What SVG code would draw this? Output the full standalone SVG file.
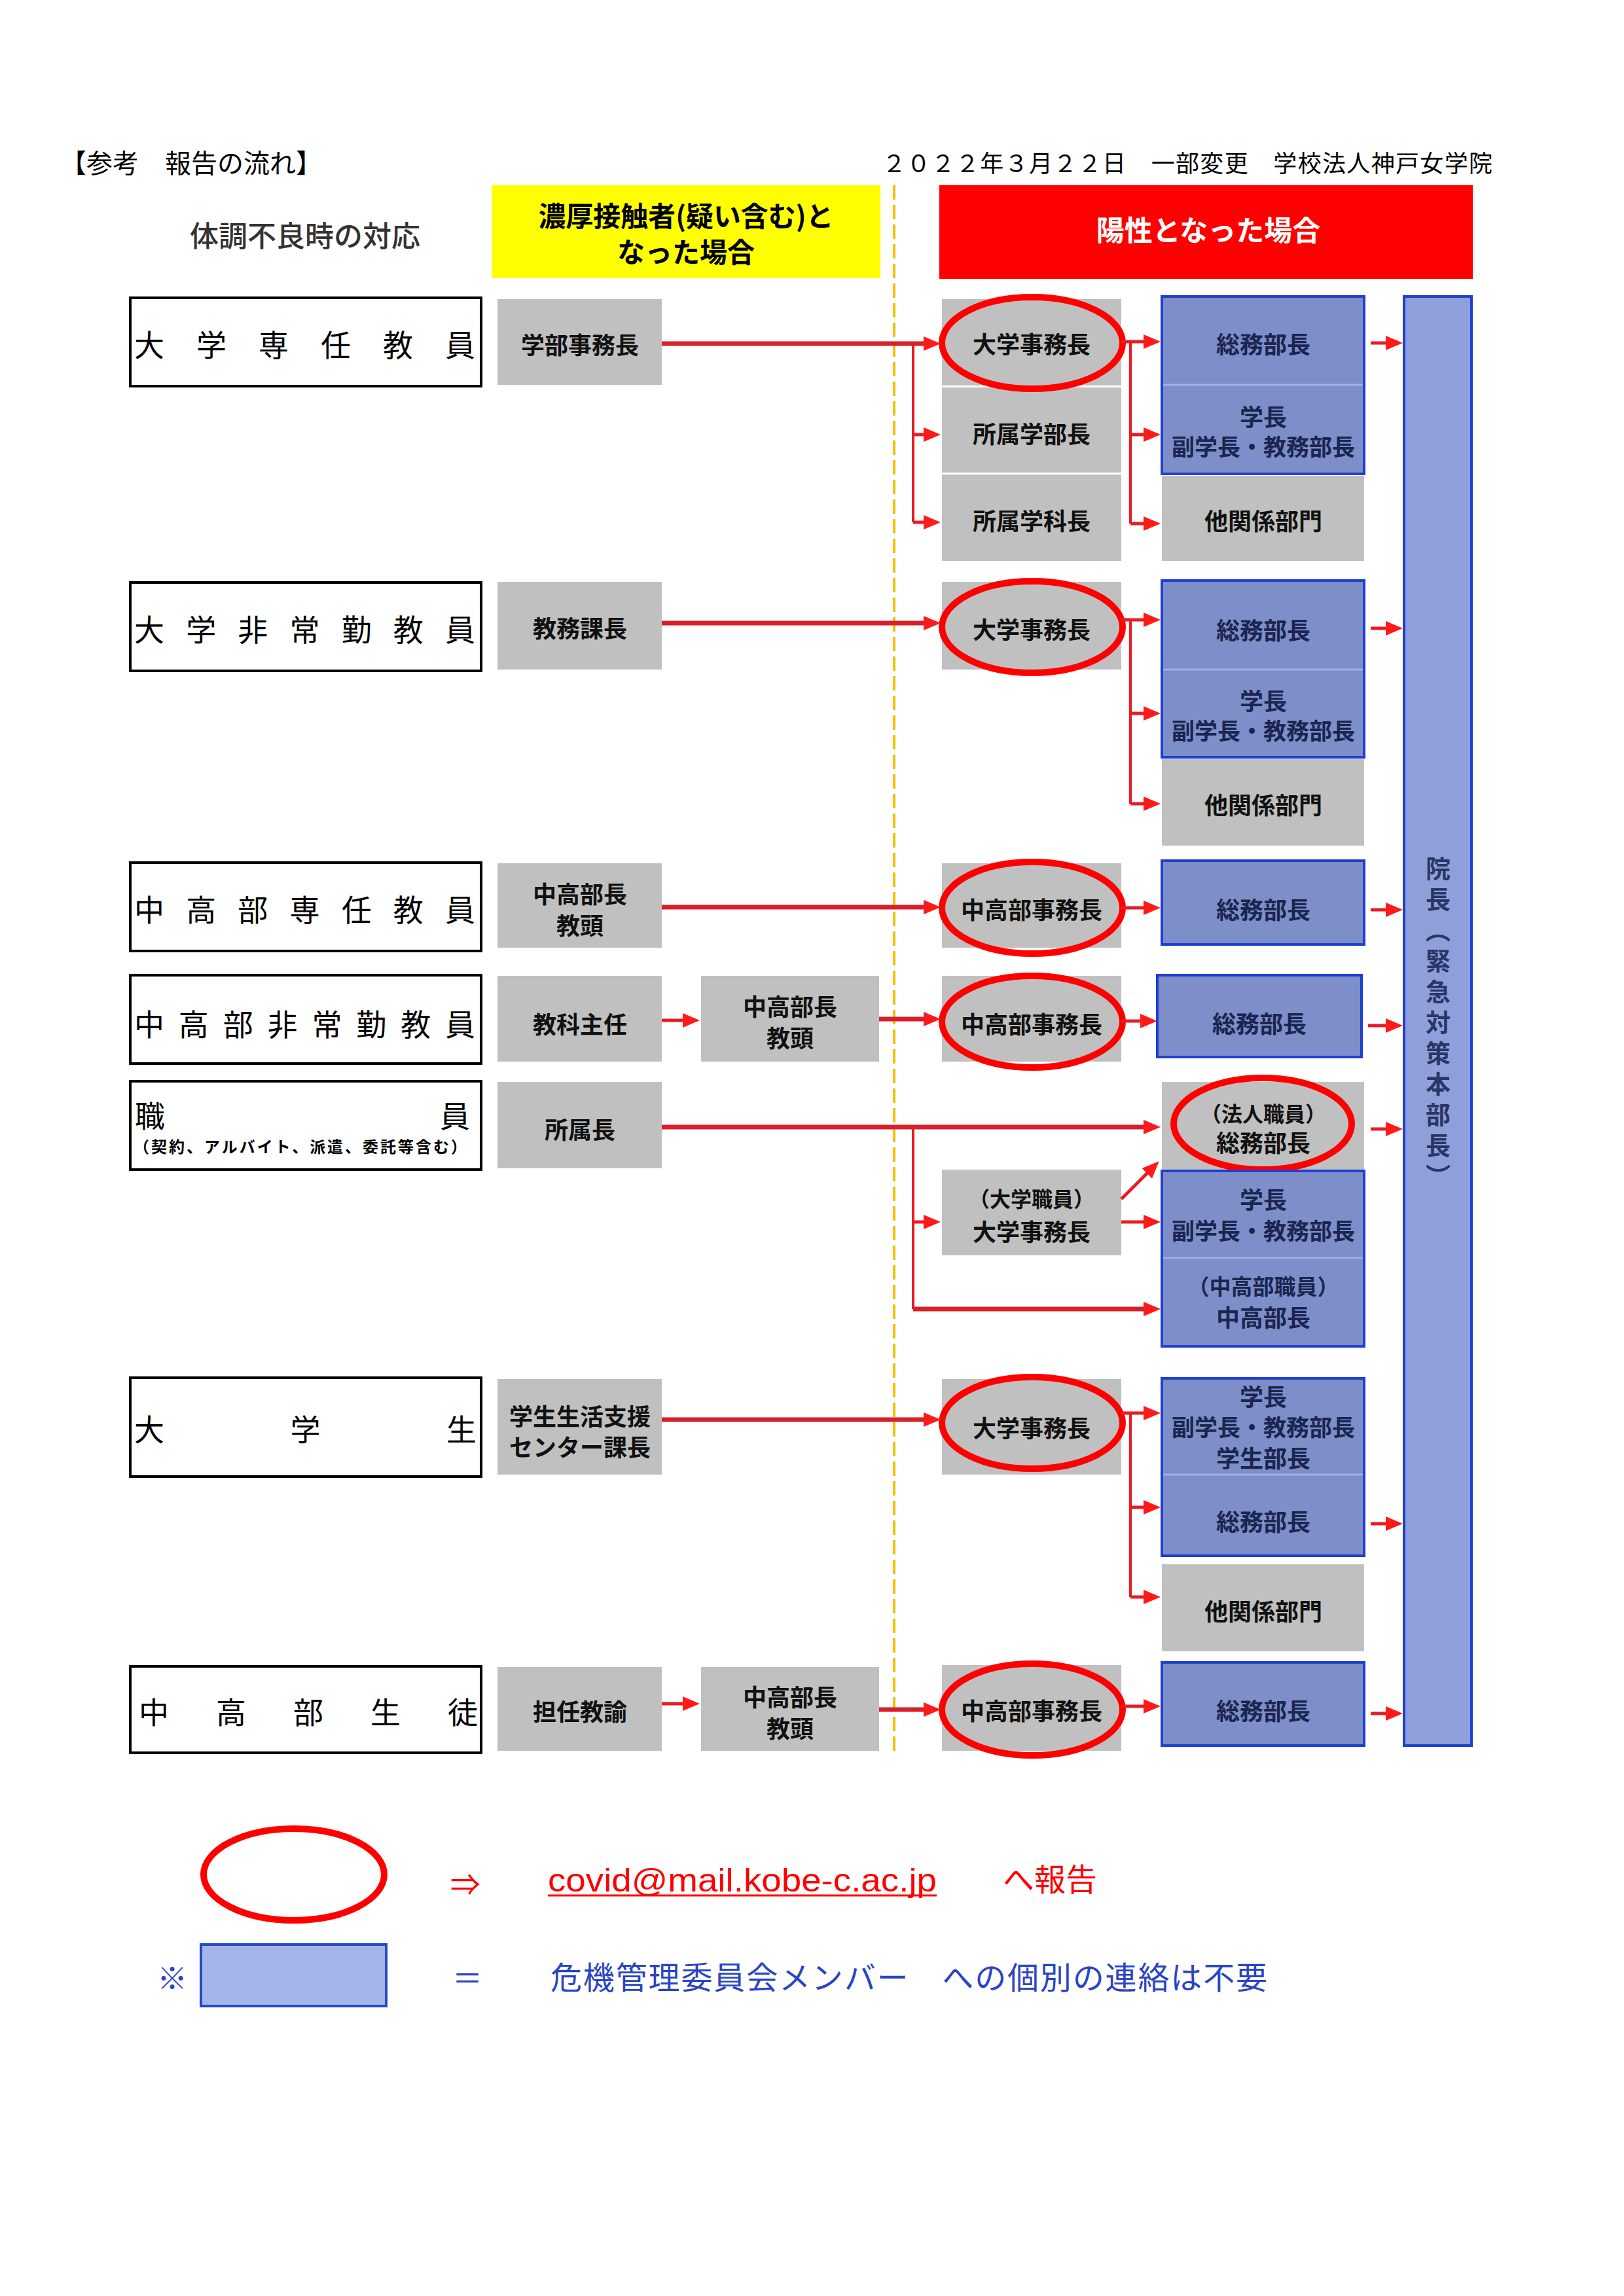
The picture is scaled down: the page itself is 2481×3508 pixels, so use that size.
<svg xmlns="http://www.w3.org/2000/svg" width="2481" height="3508" viewBox="0 0 2481 3508">
<defs>
<style>
text{font-family:"Noto Sans CJK JP","Noto Sans CJK SC",sans-serif;dominant-baseline:central}
.lbl{fill:#ffffff;stroke:#000000;stroke-width:4}
.g{fill:#c0c0c0}
.b{fill:#7d8ec8;stroke:#1f3fd2;stroke-width:4}
.gt{font-size:36px;font-weight:700;text-anchor:middle;fill:#111111}
.gs{font-size:32px;font-weight:700;text-anchor:middle;fill:#111111}
.bt{font-size:36px;font-weight:700;text-anchor:middle;fill:#1b2550}
.bs{font-size:33px;font-weight:700;text-anchor:middle;fill:#1b2550}
.lt{font-size:46px;fill:#000000}
.ov{fill:none;stroke:#ff0000;stroke-width:10}
.dv{stroke:#a3b0e0;stroke-width:3}
.ar{fill:none;stroke:#e81c24;stroke-width:5}
.arm{fill:none;stroke:#d8202a;stroke-width:7}
.vl{fill:none;stroke:#e81c24;stroke-width:4}
</style>
<marker id="ah" markerUnits="userSpaceOnUse" markerWidth="26" markerHeight="22" refX="18" refY="11" orient="auto"><path d="M0,0 L26,11 L0,22 z" fill="#ff1a1a"/></marker>
</defs>
<rect width="2481" height="3508" fill="#ffffff"/>

<g id="header">
<text x="92" y="247" style="font-size:40px" fill="#000">【参考　報告の流れ】</text>
<text x="1348" y="247" style="font-size:36px" fill="#000" textLength="932" lengthAdjust="spacing">２０２２年３月２２日　一部変更　学校法人神戸女学院</text>
<text x="466" y="358" style="font-size:44px;font-weight:500;text-anchor:middle" fill="#333333">体調不良時の対応</text>
<rect x="751" y="283" width="594" height="142" fill="#ffff00"/>
<text x="1048" y="327" style="font-size:42px;font-weight:700;text-anchor:middle" fill="#000" textLength="451" lengthAdjust="spacingAndGlyphs">濃厚接触者(疑い含む)と</text>
<text x="1048" y="382" style="font-size:42px;font-weight:700;text-anchor:middle" fill="#000">なった場合</text>
<rect x="1435" y="283" width="815" height="143" fill="#ff0000"/>
<text x="1846" y="349" style="font-size:43px;font-weight:700;text-anchor:middle" fill="#ffffff">陽性となった場合</text>
<line x1="1366" y1="283" x2="1366" y2="2680" stroke="#f2c200" stroke-width="4" stroke-dasharray="22 8"/>
</g>

<g id="hq">
<rect x="2145" y="453" width="103" height="2214" fill="#8e9fd9" stroke="#1f3fd2" stroke-width="4"/>
<text x="2197" y="1566" writing-mode="vertical-rl" style="font-size:38px;font-weight:700;text-anchor:middle;letter-spacing:9px" fill="#2b3566">院長（緊急対策本部長）</text>
</g>

<g id="row1">
<rect class="lbl" x="199" y="455" width="536" height="135"/>
<text class="lt" x="205" y="524" textLength="521" lengthAdjust="spacing">大学専任教員</text>
<rect class="g" x="760" y="457" width="251" height="131"/>
<text class="gt" x="886" y="525">学部事務長</text>
<rect class="g" x="1439" y="457" width="274" height="132"/>
<text class="gt" x="1576" y="524">大学事務長</text>
<rect class="g" x="1439" y="592" width="274" height="130"/>
<text class="gt" x="1576" y="661">所属学部長</text>
<rect class="g" x="1439" y="725" width="274" height="132"/>
<text class="gt" x="1576" y="794">所属学科長</text>
<ellipse class="ov" cx="1577" cy="524" rx="138" ry="70"/>
<rect class="b" x="1775" y="453" width="309" height="271"/>
<line class="dv" x1="1777" y1="588" x2="2082" y2="588"/>
<text class="bt" x="1930" y="524">総務部長</text>
<text class="bt" x="1930" y="635">学長</text>
<text class="bt" x="1930" y="680" style="font-size:35px">副学長・教務部長</text>
<rect class="g" x="1775" y="727" width="309" height="130"/>
<text class="gt" x="1930" y="794">他関係部門</text>
</g>

<g id="row2">
<rect class="lbl" x="199" y="890" width="536" height="135"/>
<text class="lt" x="205" y="959" textLength="521" lengthAdjust="spacing">大学非常勤教員</text>
<rect class="g" x="760" y="889" width="251" height="134"/>
<text class="gt" x="886" y="958">教務課長</text>
<rect class="g" x="1439" y="889" width="274" height="134"/>
<text class="gt" x="1576" y="960">大学事務長</text>
<ellipse class="ov" cx="1577" cy="958" rx="138" ry="70"/>
<rect class="b" x="1775" y="887" width="309" height="270"/>
<line class="dv" x1="1777" y1="1023" x2="2082" y2="1023"/>
<text class="bt" x="1930" y="961">総務部長</text>
<text class="bt" x="1930" y="1069">学長</text>
<text class="bt" x="1930" y="1114" style="font-size:35px">副学長・教務部長</text>
<rect class="g" x="1775" y="1160" width="309" height="132"/>
<text class="gt" x="1930" y="1228">他関係部門</text>
</g>

<g id="row3">
<rect class="lbl" x="199" y="1318" width="536" height="135"/>
<text class="lt" x="205" y="1387" textLength="521" lengthAdjust="spacing">中高部専任教員</text>
<rect class="g" x="760" y="1319" width="251" height="129"/>
<text class="gt" x="886" y="1364">中高部長</text>
<text class="gt" x="886" y="1412">教頭</text>
<rect class="g" x="1439" y="1319" width="274" height="129"/>
<text class="gt" x="1576" y="1388">中高部事務長</text>
<ellipse class="ov" cx="1577" cy="1387" rx="138" ry="70"/>
<rect class="b" x="1775" y="1315" width="309" height="128"/>
<text class="bt" x="1930" y="1388">総務部長</text>
</g>

<g id="row4">
<rect class="lbl" x="199" y="1490" width="536" height="135"/>
<text class="lt" x="205" y="1562" textLength="521" lengthAdjust="spacing">中高部非常勤教員</text>
<rect class="g" x="760" y="1491" width="251" height="131"/>
<text class="gt" x="886" y="1563">教科主任</text>
<rect class="g" x="1071" y="1491" width="272" height="131"/>
<text class="gt" x="1207" y="1536">中高部長</text>
<text class="gt" x="1207" y="1584">教頭</text>
<rect class="g" x="1439" y="1491" width="274" height="131"/>
<text class="gt" x="1576" y="1563">中高部事務長</text>
<ellipse class="ov" cx="1577" cy="1561" rx="138" ry="70"/>
<rect class="b" x="1768" y="1490" width="312" height="125"/>
<text class="bt" x="1924" y="1562">総務部長</text>
</g>

<g id="row5">
<rect class="lbl" x="199" y="1652" width="536" height="135"/>
<text class="lt" x="206" y="1702">職</text>
<text class="lt" x="718" y="1702" style="text-anchor:end">員</text>
<text x="204" y="1750" style="font-size:24px;font-weight:700" fill="#000" textLength="509" lengthAdjust="spacing">（契約、アルバイト、派遣、委託等含む）</text>
<rect class="g" x="760" y="1653" width="251" height="132"/>
<text class="gt" x="886" y="1724">所属長</text>
<rect class="g" x="1439" y="1787" width="274" height="131"/>
<text class="gs" x="1576" y="1830">（大学職員）</text>
<text class="gt" x="1576" y="1880">大学事務長</text>
<rect class="g" x="1775" y="1653" width="309" height="134"/>
<text class="gs" x="1930" y="1700">（法人職員）</text>
<text class="gt" x="1930" y="1744">総務部長</text>
<ellipse class="ov" cx="1929" cy="1717" rx="136" ry="70"/>
<rect class="b" x="1775" y="1789" width="309" height="268"/>
<line class="dv" x1="1777" y1="1922" x2="2082" y2="1922"/>
<text class="bt" x="1930" y="1831">学長</text>
<text class="bt" x="1930" y="1878" style="font-size:35px">副学長・教務部長</text>
<text class="bs" x="1930" y="1964">（中高部職員）</text>
<text class="bt" x="1930" y="2011">中高部長</text>
</g>

<g id="row6">
<rect class="lbl" x="199" y="2105" width="536" height="151"/>
<text class="lt" x="205" y="2181" textLength="523" lengthAdjust="spacing">大学生</text>
<rect class="g" x="760" y="2107" width="251" height="146"/>
<text class="gt" x="886" y="2162">学生生活支援</text>
<text class="gt" x="886" y="2209">センター課長</text>
<rect class="g" x="1439" y="2107" width="274" height="146"/>
<text class="gt" x="1576" y="2180">大学事務長</text>
<ellipse class="ov" cx="1577" cy="2174" rx="138" ry="70"/>
<rect class="b" x="1775" y="2106" width="309" height="271"/>
<line class="dv" x1="1777" y1="2253" x2="2082" y2="2253"/>
<text class="bt" x="1930" y="2132">学長</text>
<text class="bt" x="1930" y="2178" style="font-size:35px">副学長・教務部長</text>
<text class="bt" x="1930" y="2226">学生部長</text>
<text class="bt" x="1930" y="2323">総務部長</text>
<rect class="g" x="1775" y="2390" width="309" height="133"/>
<text class="gt" x="1930" y="2460">他関係部門</text>
</g>

<g id="row7">
<rect class="lbl" x="199" y="2546" width="536" height="132"/>
<text class="lt" x="212" y="2613" textLength="518" lengthAdjust="spacing">中高部生徒</text>
<rect class="g" x="760" y="2547" width="251" height="128"/>
<text class="gt" x="886" y="2613">担任教諭</text>
<rect class="g" x="1071" y="2547" width="272" height="128"/>
<text class="gt" x="1207" y="2591">中高部長</text>
<text class="gt" x="1207" y="2639">教頭</text>
<rect class="g" x="1439" y="2544" width="274" height="131"/>
<text class="gt" x="1576" y="2612">中高部事務長</text>
<ellipse class="ov" cx="1577" cy="2612" rx="138" ry="70"/>
<rect class="b" x="1775" y="2540" width="309" height="127"/>
<text class="bt" x="1930" y="2612">総務部長</text>
</g>

<g id="connectors">
<path class="arm" d="M1011,525 H1429" marker-end="url(#ah)"/>
<path class="vl" d="M1395,525 V798"/>
<path class="ar" d="M1395,664 H1429" marker-end="url(#ah)"/>
<path class="ar" d="M1395,798 H1429" marker-end="url(#ah)"/>
<path class="ar" d="M1713,522 H1765" marker-end="url(#ah)"/>
<path class="vl" d="M1727,522 V800"/>
<path class="ar" d="M1727,664 H1765" marker-end="url(#ah)"/>
<path class="ar" d="M1727,800 H1765" marker-end="url(#ah)"/>
<path class="ar" d="M2094,524 H2135" marker-end="url(#ah)"/>

<path class="arm" d="M1011,952 H1429" marker-end="url(#ah)"/>
<path class="ar" d="M1713,947 H1765" marker-end="url(#ah)"/>
<path class="vl" d="M1727,947 V1228"/>
<path class="ar" d="M1727,1090 H1765" marker-end="url(#ah)"/>
<path class="ar" d="M1727,1228 H1765" marker-end="url(#ah)"/>
<path class="ar" d="M2094,960 H2135" marker-end="url(#ah)"/>

<path class="arm" d="M1011,1386 H1429" marker-end="url(#ah)"/>
<path class="ar" d="M1713,1387 H1765" marker-end="url(#ah)"/>
<path class="ar" d="M2094,1390 H2135" marker-end="url(#ah)"/>

<path class="ar" d="M1011,1559 H1061" marker-end="url(#ah)"/>
<path class="arm" d="M1343,1557 H1429" marker-end="url(#ah)"/>
<path class="ar" d="M1713,1560 H1760" marker-end="url(#ah)"/>
<path class="ar" d="M2090,1567 H2135" marker-end="url(#ah)"/>

<path class="arm" d="M1011,1722 H1765" marker-end="url(#ah)"/>
<path class="vl" d="M1395,1722 V2000"/>
<path class="ar" d="M1395,1867 H1429" marker-end="url(#ah)"/>
<path class="arm" d="M1395,2000 H1765" marker-end="url(#ah)"/>
<path class="ar" d="M1713,1832 L1765,1780" marker-end="url(#ah)"/>
<path class="ar" d="M1713,1867 H1765" marker-end="url(#ah)"/>
<path class="ar" d="M2094,1725 H2135" marker-end="url(#ah)"/>

<path class="arm" d="M1011,2169 H1429" marker-end="url(#ah)"/>
<path class="ar" d="M1713,2159 H1765" marker-end="url(#ah)"/>
<path class="vl" d="M1727,2159 V2440"/>
<path class="ar" d="M1727,2303 H1765" marker-end="url(#ah)"/>
<path class="ar" d="M1727,2440 H1765" marker-end="url(#ah)"/>
<path class="ar" d="M2094,2328 H2135" marker-end="url(#ah)"/>

<path class="ar" d="M1011,2603 H1061" marker-end="url(#ah)"/>
<path class="arm" d="M1343,2612 H1429" marker-end="url(#ah)"/>
<path class="ar" d="M1713,2607 H1765" marker-end="url(#ah)"/>
<path class="ar" d="M2094,2618 H2135" marker-end="url(#ah)"/>
</g>

<g id="legend">
<ellipse class="ov" cx="449" cy="2864" rx="138" ry="70"/>
<text x="711" y="2876" style="font-size:46px;text-anchor:middle" fill="#ff0000">⇒</text>
<text x="837" y="2890" style="font-family:'Liberation Sans',sans-serif;font-size:50px;dominant-baseline:alphabetic" fill="#ff0000" textLength="594" lengthAdjust="spacingAndGlyphs">covid@mail.kobe-c.ac.jp</text>
<line x1="837" y1="2896" x2="1431" y2="2896" stroke="#ff0000" stroke-width="3"/>
<text x="1532" y="2868" style="font-size:48px" fill="#ff0000">へ報告</text>
<text x="263" y="3019" style="font-size:46px;text-anchor:middle" fill="#2a44c4">※</text>
<rect x="307" y="2971" width="283" height="94" fill="#a5b5ea" stroke="#2448c8" stroke-width="4"/>
<text x="714" y="3019" style="font-size:46px;text-anchor:middle" fill="#2a44c4">＝</text>
<text x="841" y="3018" style="font-size:48px" fill="#2a44c4" textLength="1095" lengthAdjust="spacing">危機管理委員会メンバー　への個別の連絡は不要</text>
</g>
</svg>
